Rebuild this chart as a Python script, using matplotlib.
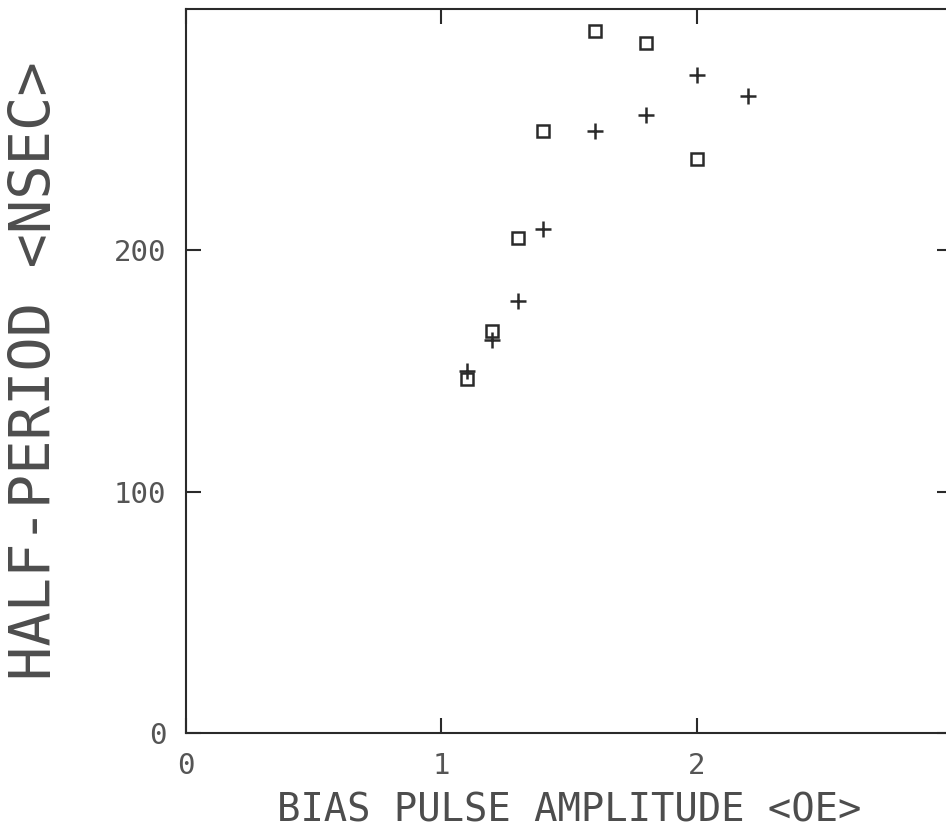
import matplotlib
matplotlib.use("Agg")
import matplotlib.pyplot as plt

# Data
square_x = [1.1, 1.2, 1.3, 1.4, 1.6, 1.8, 2.0]
square_y = [146.5, 166.5, 205, 249.5, 291, 286, 238]
plus_x = [1.1, 1.2, 1.3, 1.4, 1.6, 1.8, 2.0, 2.2]
plus_y = [150, 163, 179, 209, 249.5, 256, 272.5, 264]

x_ticks = [0, 1, 2]
x_tick_labels = ["0", "1", "2"]
y_ticks = [0, 100, 200]
y_tick_labels = ["0", "100", "200"]

ink = "#2a2a2a"
mono = "DejaVu Sans Mono"

fig = plt.figure(figsize=(9.46, 8.33), dpi=100)
ax = fig.add_axes([186/946, 100/833, 766/946, 724/833])
ax.set_xlim(0, 3)
ax.set_ylim(0, 300)

ax.plot(square_x, square_y, linestyle="none", marker="s", markersize=9,
        markerfacecolor="none", markeredgecolor=ink, markeredgewidth=1.8)
ax.plot(plus_x, plus_y, linestyle="none", marker="+", markersize=12,
        markeredgecolor=ink, markeredgewidth=1.8)

for s in ax.spines.values():
    s.set_color(ink)
    s.set_linewidth(1.5)

ax.set_xticks(x_ticks)
ax.set_xticklabels(x_tick_labels, family=mono)
ax.set_yticks(y_ticks)
ax.set_yticklabels(y_tick_labels, family=mono)
ax.tick_params(direction="in", length=11, width=1.5, color=ink,
               top=True, right=True, labelsize=21, labelcolor="#555555")
ax.tick_params(axis="x", pad=14)
ax.tick_params(axis="y", pad=14)

ax.set_xlabel("BIAS PULSE AMPLITUDE <OE>", fontsize=28, color="#4d4d4d",
              family=mono)
ax.xaxis.label.set_va("center")
ax.xaxis.set_label_coords(0.5, -0.107)

ax.set_ylabel("HALF-PERIOD <NSEC>", fontsize=41, color="#4d4d4d",
              family=mono)
ax.yaxis.label.set_va("center")
ax.yaxis.set_label_coords(-0.197, 0.5)

fig.savefig("out.png", dpi=100, facecolor="white")
